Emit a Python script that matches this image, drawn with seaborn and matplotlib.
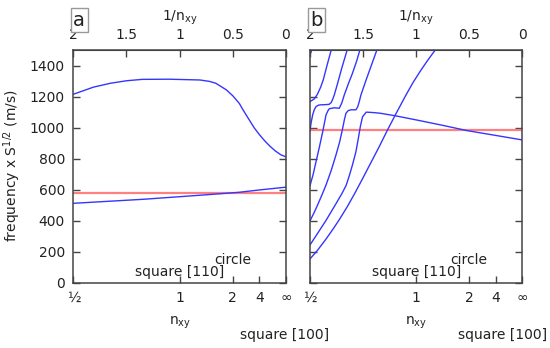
import matplotlib
matplotlib.use("Agg")
import matplotlib.pyplot as plt
import pandas as pd
import seaborn as sns

# x values are 1/n_xy (2 -> n_xy = 1/2, 0 -> n_xy = infinity)
bottom_ticks = [2, 1, 0.5, 0.25, 0]
bottom_labels = ["½", "1", "2", "4", "∞"]
top_ticks = [2, 1.5, 1, 0.5, 0]
top_labels = ["2", "1.5", "1", "0.5", "0"]

# panel a
a_upper_x = [2.0, 1.81, 1.65, 1.5, 1.35, 1.1, 0.81, 0.72, 0.66, 0.56, 0.5, 0.44, 0.4,
             0.35, 0.3, 0.25, 0.2, 0.15, 0.1, 0.05, 0.0]
a_upper_y = [1215, 1261, 1286, 1302, 1311, 1312, 1307, 1298, 1286, 1243, 1205, 1157, 1110,
             1055, 1000, 955, 915, 880, 850, 826, 812]
a_lower_x = [2.0, 1.34, 0.87, 0.65, 0.44, 0.25, 0.0]
a_lower_y = [513, 539, 562, 573, 584, 599, 617]
a_ref = 578

# panel b
b_diag_x = [2.0, 1.93, 1.85, 1.78, 1.72, 1.65, 1.58, 1.51, 1.43, 1.35, 1.27, 1.19, 1.1,
            1.03, 0.96, 0.89, 0.82, 0.80]
b_diag_y = [155, 210, 282, 350, 412, 490, 575, 665, 770, 875, 985, 1090, 1205,
            1290, 1365, 1435, 1500, 1525]
b_br1_x = [2.0, 1.93, 1.85, 1.76, 1.7, 1.66, 1.63, 1.6, 1.567, 1.545, 1.525, 1.505, 1.47,
           1.4, 1.34, 1.2, 1.0, 0.75, 0.52, 0.25, 0.0]
b_br1_y = [245, 318, 402, 505, 575, 628, 690, 760, 846, 930, 1010, 1070, 1100,
           1097, 1093, 1077, 1050, 1015, 981, 950, 921]
b_br2_x = [2.0, 1.96, 1.93, 1.89, 1.849, 1.8, 1.755, 1.72, 1.692, 1.675, 1.661, 1.64,
           1.614, 1.567, 1.55, 1.535, 1.52, 1.47, 1.42, 1.37, 1.36]
b_br2_y = [400, 455, 500, 563, 631, 725, 825, 910, 997, 1055, 1093, 1110,
           1115, 1115, 1135, 1170, 1211, 1310, 1405, 1500, 1520]
b_br3_x = [2.0, 1.97, 1.943, 1.91, 1.88, 1.849, 1.83, 1.818, 1.77, 1.724, 1.7, 1.677,
           1.64, 1.6, 1.56, 1.53, 1.52]
b_br3_y = [627, 700, 782, 880, 975, 1082, 1110, 1122, 1128, 1125, 1160, 1211,
           1280, 1350, 1430, 1500, 1520]
b_br4_x = [2.0, 1.99, 1.975, 1.96, 1.943, 1.92, 1.9, 1.86, 1.82, 1.8, 1.785, 1.771,
           1.74, 1.7, 1.65, 1.64]
b_br4_y = [978, 1030, 1082, 1115, 1136, 1145, 1147, 1148, 1150, 1162, 1185, 1211,
           1285, 1385, 1500, 1525]
b_br5_x = [2.0, 1.96, 1.93, 1.9, 1.875, 1.84, 1.8, 1.79]
b_br5_y = [1168, 1185, 1215, 1260, 1308, 1400, 1500, 1525]
b_br6_x = [2.0, 1.99, 1.98]
b_br6_y = [1470, 1487, 1510]
b_ref = 983

BLUE = "#3535ff"
RED = "#ff8080"
INK = "#222222"


def to_frame(curves):
    rows = []
    for i, (xs, ys) in enumerate(curves):
        for x, y in zip(xs, ys):
            rows.append({"inv_n": x, "freq": y, "curve": i})
    return pd.DataFrame(rows)


def draw_panel(ax, curves, ref, letter):
    ax.axhline(ref, color=RED, lw=1.6, zorder=1)
    sns.lineplot(data=to_frame(curves), x="inv_n", y="freq", units="curve",
                 estimator=None, sort=False, color=BLUE, lw=1.0, ax=ax, zorder=2)
    ax.set_xlim(2, 0)
    ax.set_ylim(0, 1500)
    ax.set_xticks(bottom_ticks)
    ax.set_xticklabels(bottom_labels)
    ax.set_yticks(range(0, 1401, 200))
    ax.tick_params(direction="in", length=5, width=1, right=True, pad=6,
                   labelsize=10, colors="#444444", labelcolor=INK)
    for s in ax.spines.values():
        s.set_visible(True)
        s.set_color("#444444")
        s.set_linewidth(1.1)
    ax.set_xlabel("n$_{\\mathrm{xy}}$", fontsize=10, color=INK, labelpad=7)
    ax.set_ylabel("")

    top = ax.secondary_xaxis("top")
    top.set_xticks(top_ticks)
    top.set_xticklabels(top_labels)
    top.tick_params(direction="in", length=5, width=1, pad=6, labelsize=10,
                    colors="#444444", labelcolor=INK)
    top.spines["top"].set_color("#444444")
    top.set_xlabel("1/n$_{\\mathrm{xy}}$", fontsize=10, color=INK, labelpad=5)

    ax.text(1.0, 70, "square [110]", ha="center", va="center", fontsize=10, color=INK)
    ax.text(0.5, 148, "circle", ha="center", va="center", fontsize=10, color=INK)
    ax.text(0.0, 1.128, letter, transform=ax.transAxes, ha="left", va="center",
            fontsize=14, color=INK,
            bbox=dict(boxstyle="square,pad=0.12", fc="white", ec="#999999", lw=1))


sns.set_style("ticks")
plt.rcParams["font.family"] = ["DejaVu Sans"]

fig = plt.figure(figsize=(5.5, 3.48), dpi=100)
ax_a = fig.add_axes([73.3 / 550, 65 / 348, 212.7 / 550, 233 / 348])
ax_b = fig.add_axes([310 / 550, 65 / 348, 212.3 / 550, 233 / 348])

draw_panel(ax_a, [(a_upper_x, a_upper_y), (a_lower_x, a_lower_y)], a_ref, "a")
draw_panel(ax_b, [(b_diag_x, b_diag_y), (b_br1_x, b_br1_y), (b_br2_x, b_br2_y),
                  (b_br3_x, b_br3_y), (b_br4_x, b_br4_y), (b_br5_x, b_br5_y),
                  (b_br6_x, b_br6_y)], b_ref, "b")
ax_b.set_yticklabels([])

fig.text(12 / 550, 0.5 + (348 / 2 - 166) / 348, "frequency x S$^{1/2}$ (m/s)",
         rotation=90, ha="center", va="center", fontsize=10, color=INK)
fig.text(285 / 550, 1 - 335 / 348, "square [100]", ha="center", va="center",
         fontsize=10, color=INK)
fig.text(547 / 550, 1 - 335 / 348, "square [100]", ha="right", va="center",
         fontsize=10, color=INK)

fig.savefig("out.png", dpi=100)
